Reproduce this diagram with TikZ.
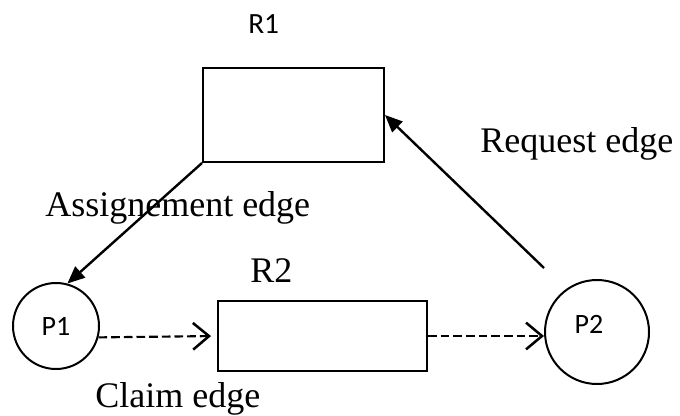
\documentclass[tikz,border=0pt]{standalone}
\usepackage{fontspec}
\setmainfont{Liberation Serif}
\newfontfamily\calibrifont{Carlito}
\usetikzlibrary{arrows.meta}

\tikzset{
  resbox/.style={rectangle, draw=black, line width=1.5pt, inner sep=0pt},
  procnode/.style={circle, draw=black, line width=1.5pt, inner sep=0pt,
                   font=\calibrifont\fontsize{21}{25}\selectfont},
  edgelabel/.style={font=\fontsize{27}{32}\selectfont, inner sep=0pt, anchor=base west},
  reslabel/.style={font=\calibrifont\fontsize{22}{26}\selectfont, inner sep=0pt, anchor=base west},
  solidedge/.style={-{Triangle[length=13pt,width=11pt]}, line width=1.8pt},
  claimedge/.style={-{Straight Barb[length=12pt,width=20pt,line width=1.9pt]},
                    line width=1.6pt, dash pattern=on 6.5pt off 3pt},
}

\begin{document}
\begin{tikzpicture}[x=0.75pt,y=-0.75pt]
\useasboundingbox (0,0) rectangle (680,416);
% resources
\node[resbox, minimum width=135.75pt, minimum height=70.5pt] (r1) at (293.5,115) {};
\node[resbox, minimum width=156.75pt, minimum height=52.5pt] (r2) at (322.5,336) {};
% processes
\node[procnode, minimum size=64.5pt] (p1) at (56,326) {P1};
\node[procnode, minimum size=78pt] (p2) at (597,332) {\raisebox{12pt}{P2}\hspace*{12pt}};
% labels
\node[reslabel] (r1lab) at (248,34) {R1};
\node[edgelabel] (r2lab) at (250,282) {R2};
\node[edgelabel] (assignlab) at (45,217) {Assignement edge};
\node[edgelabel] (requestlab) at (480,153) {Request edge};
\node[edgelabel] (claimlab) at (95,407) {Claim edge};
% edges
\coordinate (reqstart) at (544,268);
\draw[solidedge] (r1.south west) -- (p1.75);
\draw[solidedge] (reqstart) -- (r1.east);
\draw[claimedge, shorten >=4.5pt] (p1.-15) -- (r2.west);
\draw[claimedge] (r2.east) -- (r2.east -| p2.west);
\end{tikzpicture}
\end{document}
